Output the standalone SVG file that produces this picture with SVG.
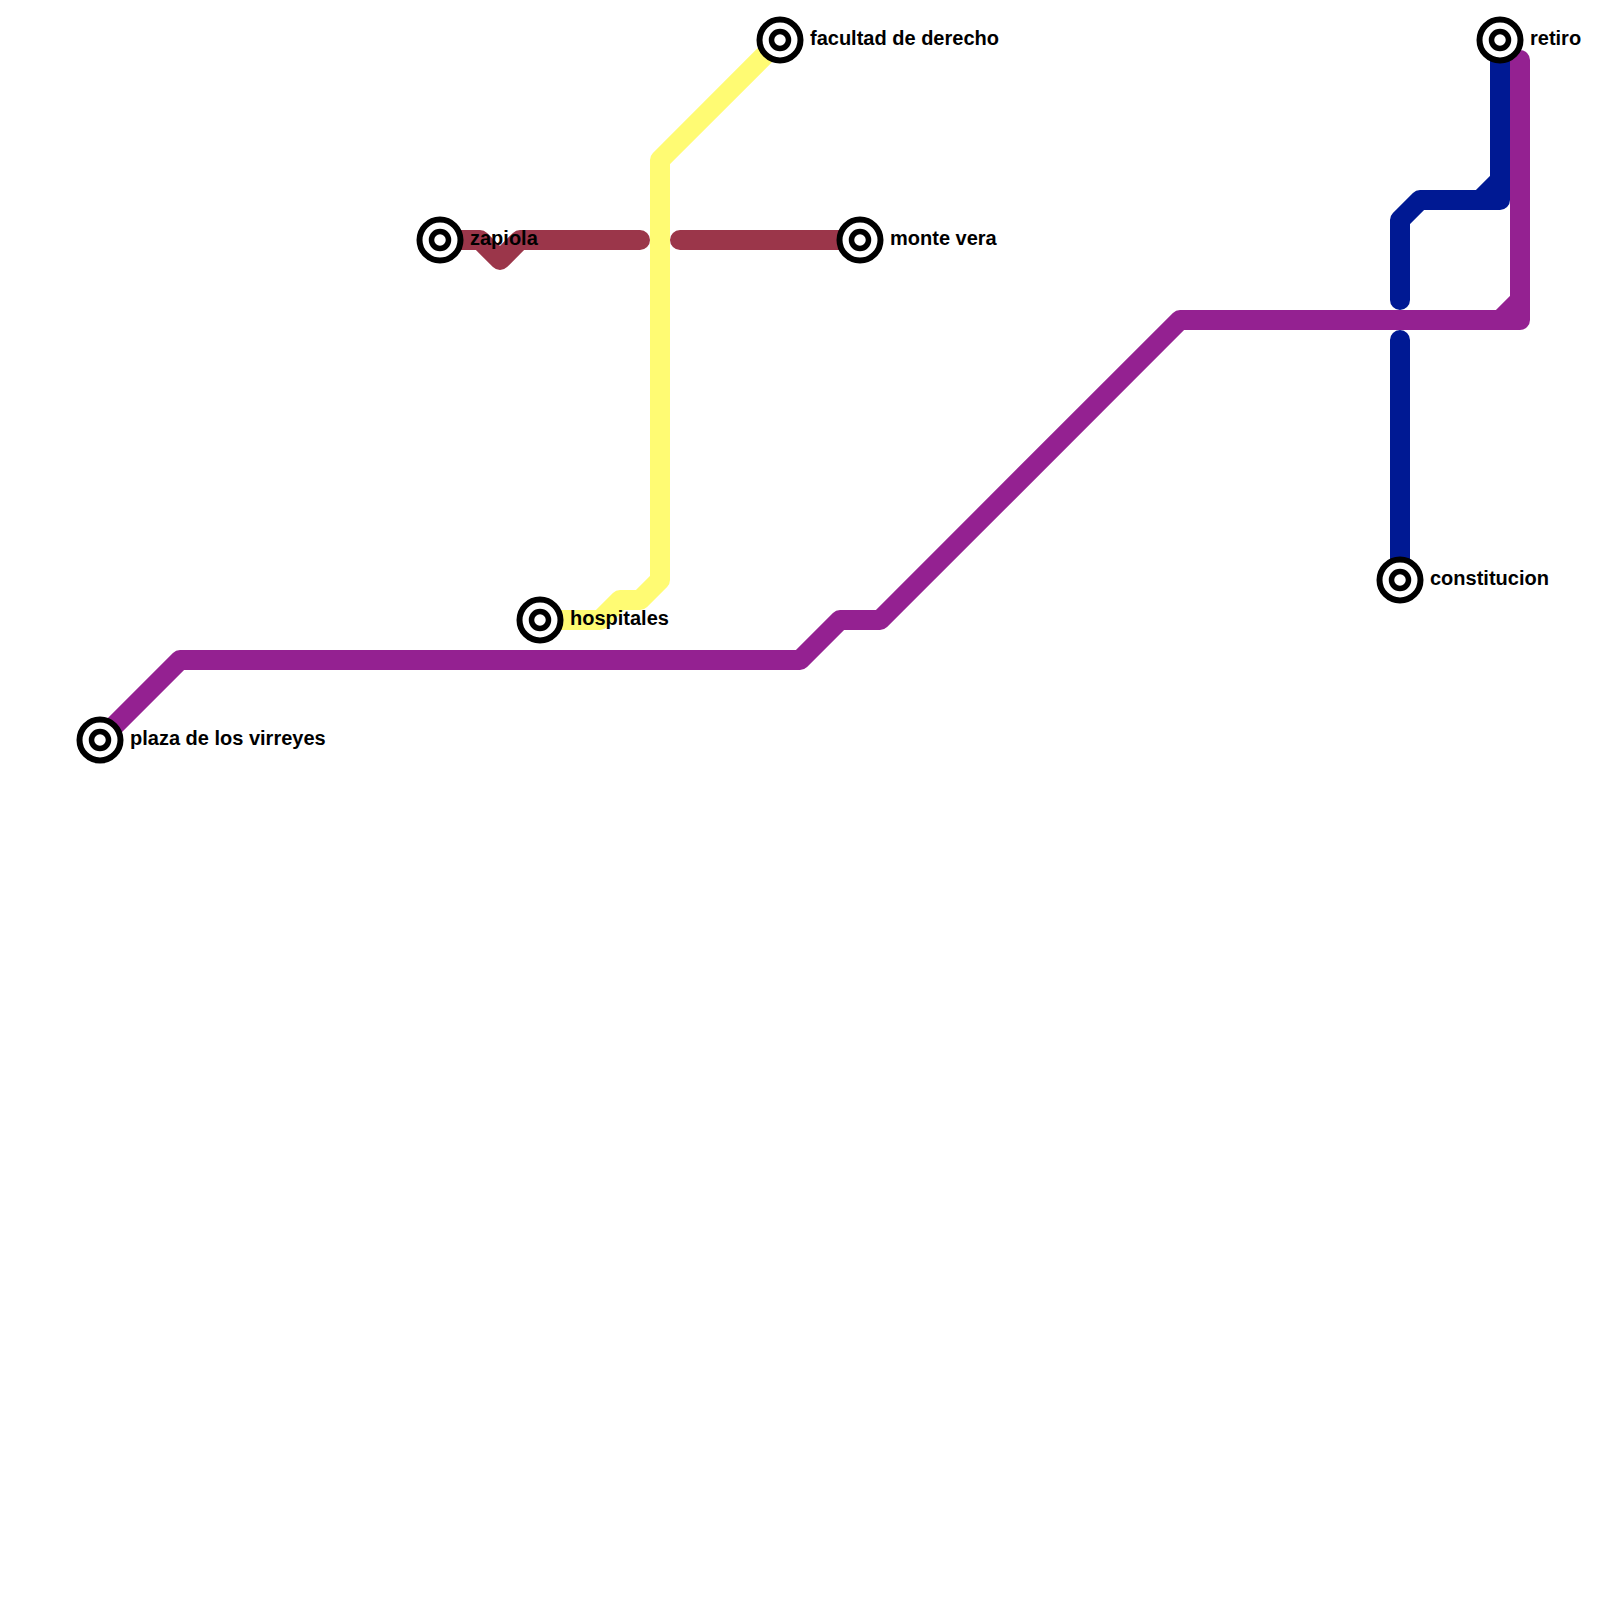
<svg xmlns="http://www.w3.org/2000/svg" width="1600" height="1600" viewBox="0 0 1600 1600">
<style>
.l{fill:none;stroke-width:20;stroke-linecap:round;stroke-linejoin:round}
.y{stroke:#fffb73;stroke-linecap:butt}.m{stroke:#9b364a}.p{stroke:#942191}.b{stroke:#001993}
.o{fill:#fff;stroke:#000;stroke-width:6}.i{fill:#fff;stroke:#000;stroke-width:5.5}
text{font-family:"Liberation Sans",Arial,sans-serif;font-size:20px;font-weight:bold;fill:#000}
</style>
<rect width="1600" height="1600" fill="#fff"/>
<g id="connectors">
<path class="l y" d="M540 620H600L620 600H640L660 580V160L780 40"/>
<path class="l m" d="M440 240H480L500 260L520 240H640M680 240H860"/>
<path class="l p" d="M100 740L180 660H800L840 620H880L1180 320H1520V60M1500 320L1520 300"/>
<path class="l b" d="M1500 40V200H1420L1400 220V300M1480 200L1500 180M1400 340V580"/>
</g>
<g id="plaza"><circle class="o" cx="100" cy="740" r="20.5"/><circle class="i" cx="100" cy="740" r="8.5"/><text x="130" y="745">plaza de los virreyes</text></g>
<g id="zapiola"><circle class="o" cx="440" cy="240" r="20.5"/><circle class="i" cx="440" cy="240" r="8.5"/><text x="470" y="245">zapiola</text></g>
<g id="hospitales"><circle class="o" cx="540" cy="620" r="20.5"/><circle class="i" cx="540" cy="620" r="8.5"/><text x="570" y="625">hospitales</text></g>
<g id="facultad"><circle class="o" cx="780" cy="40" r="20.5"/><circle class="i" cx="780" cy="40" r="8.5"/><text x="810" y="45">facultad de derecho</text></g>
<g id="monte"><circle class="o" cx="860" cy="240" r="20.5"/><circle class="i" cx="860" cy="240" r="8.5"/><text x="890" y="245">monte vera</text></g>
<g id="retiro"><circle class="o" cx="1500" cy="40" r="20.5"/><circle class="i" cx="1500" cy="40" r="8.5"/><text x="1530" y="45">retiro</text></g>
<g id="constitucion"><circle class="o" cx="1400" cy="580" r="20.5"/><circle class="i" cx="1400" cy="580" r="8.5"/><text x="1430" y="585">constitucion</text></g>
</svg>
